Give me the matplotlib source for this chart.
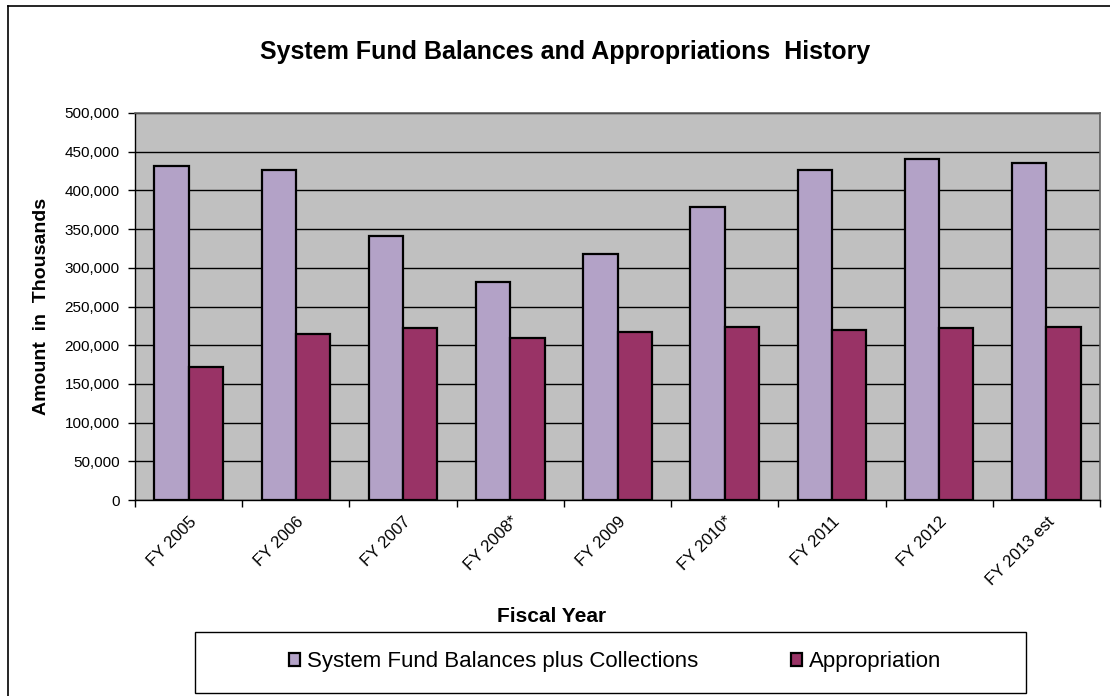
import matplotlib.pyplot as plt
import numpy as np
from matplotlib.lines import Line2D
from matplotlib.patches import Rectangle

plt.rcParams['font.family'] = ['Liberation Sans', 'DejaVu Sans']

years = ['FY 2005', 'FY 2006', 'FY 2007', 'FY 2008*', 'FY 2009',
         'FY 2010*', 'FY 2011', 'FY 2012', 'FY 2013 est']
balances = [431000, 426000, 341000, 282000, 318000, 379000, 426000, 441000, 435000]
appropriation = [172000, 214000, 222000, 209000, 217000, 224000, 219000, 222000, 224000]

W, H = 1110, 696
fig = plt.figure(figsize=(W / 100, H / 100), dpi=100)
ax = fig.add_axes([135 / W, 1 - 500 / H, 965 / W, 387 / H])
ax.set_facecolor('#C0C0C0')

x = np.arange(len(years))
bw = 0.32
ax.bar(x - bw / 2, balances, bw, color='#B3A2C7', edgecolor='black',
       linewidth=1.6, label='System Fund Balances plus Collections', zorder=3)
ax.bar(x + bw / 2, appropriation, bw, color='#993366', edgecolor='black',
       linewidth=1.6, label='Appropriation', zorder=3)

ax.set_xlim(-0.5, len(years) - 0.5)
ax.set_ylim(0, 500000)
ax.set_yticks(np.arange(0, 500001, 50000))
ax.set_yticklabels([f'{v:,}' for v in range(0, 500001, 50000)], fontsize=11)
ax.yaxis.grid(True, color='black', linewidth=1.0, zorder=1)
ax.set_axisbelow(True)

ax.set_xticks(x)
ax.set_xticklabels(years, rotation=45, ha='right', rotation_mode='anchor', fontsize=12)
ax.set_xticks(np.arange(-0.5, len(years)), minor=True)
ax.tick_params(axis='x', which='major', length=0, pad=10)
ax.tick_params(axis='x', which='minor', length=5, width=1, direction='out')
ax.tick_params(axis='y', length=5, width=1, direction='out', pad=6)

for s in ['top', 'right']:
    ax.spines[s].set_color('#606060')
    ax.spines[s].set_linewidth(1.2)
for s in ['left', 'bottom']:
    ax.spines[s].set_color('black')
    ax.spines[s].set_linewidth(1.0)

fig.text(565 / W, 1 - 52 / H, 'System Fund Balances and Appropriations  History',
         ha='center', va='center', fontsize=18, fontweight='bold')
fig.text(552 / W, 1 - 616 / H, 'Fiscal Year', ha='center', va='center',
         fontsize=15, fontweight='bold')
fig.text(42 / W, 1 - 306 / H, 'Amount  in  Thousands', ha='center', va='center',
         rotation=90, fontsize=14, fontweight='bold')

# legend box
fig.patches.append(Rectangle((195 / W, 1 - 693 / H), 831 / W, 61 / H,
                             transform=fig.transFigure, fill=False,
                             edgecolor='black', linewidth=1.0))
fig.legend(loc='center', bbox_to_anchor=(615 / W, 1 - 662 / H), ncol=2,
           frameon=False, fontsize=16, handlelength=0.5, handleheight=0.5,
           handletextpad=0.3, columnspacing=4.2)

# outer frame (left and top only)
fig.add_artist(Line2D([8 / W, 8 / W], [0, 1 - 6 / H], color='black', linewidth=1.2))
fig.add_artist(Line2D([8 / W, 1], [1 - 6 / H, 1 - 6 / H], color='black', linewidth=1.2))

fig.savefig('out.png', dpi=100)
